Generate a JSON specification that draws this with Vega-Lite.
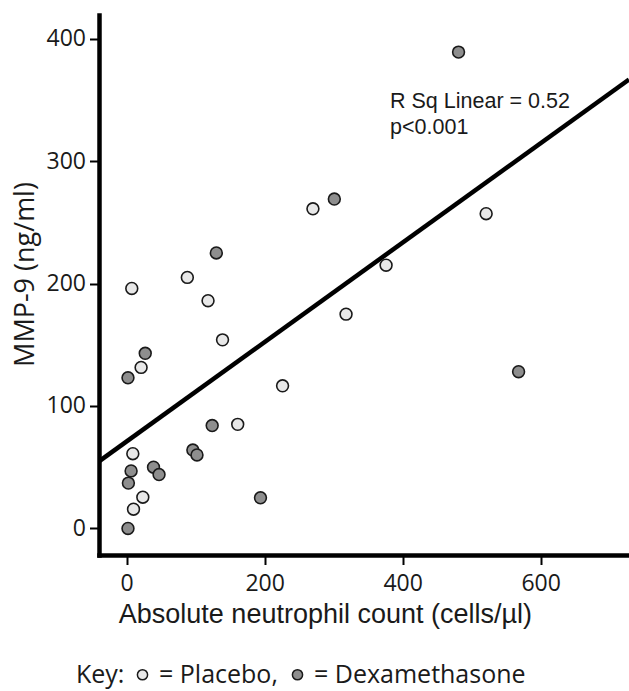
{
  "$schema": "https://vega.github.io/schema/vega-lite/v6.json",
  "width": 530,
  "height": 540,
  "autosize": {"type": "none"},
  "padding": {"left": 99, "top": 15, "right": 0, "bottom": 136},
  "background": "white",
  "config": {"view": {"stroke": null}, "axis": {"grid": false}},
  "datasets": {
    "fit": [
      {"x": -40, "y": 54.8},
      {"x": 728, "y": 366.6}
    ],
    "points": [
      {"x": 96, "y": 64, "group": "Dexamethasone"},
      {"x": 102, "y": 60, "group": "Dexamethasone"},
      {"x": 481, "y": 389, "group": "Dexamethasone"},
      {"x": 130, "y": 225, "group": "Dexamethasone"},
      {"x": 301, "y": 269, "group": "Dexamethasone"},
      {"x": 27, "y": 143, "group": "Dexamethasone"},
      {"x": 2, "y": 123, "group": "Dexamethasone"},
      {"x": 124, "y": 84, "group": "Dexamethasone"},
      {"x": 6.5, "y": 47, "group": "Dexamethasone"},
      {"x": 2.6, "y": 37, "group": "Dexamethasone"},
      {"x": 39, "y": 50, "group": "Dexamethasone"},
      {"x": 47, "y": 44, "group": "Dexamethasone"},
      {"x": 2, "y": 0, "group": "Dexamethasone"},
      {"x": 194, "y": 25, "group": "Dexamethasone"},
      {"x": 568, "y": 128, "group": "Dexamethasone"},
      {"x": 270, "y": 261, "group": "Placebo"},
      {"x": 88, "y": 205, "group": "Placebo"},
      {"x": 7.5, "y": 196, "group": "Placebo"},
      {"x": 118, "y": 186, "group": "Placebo"},
      {"x": 139, "y": 154, "group": "Placebo"},
      {"x": 21, "y": 131.5, "group": "Placebo"},
      {"x": 226, "y": 116.5, "group": "Placebo"},
      {"x": 161, "y": 85, "group": "Placebo"},
      {"x": 9, "y": 61, "group": "Placebo"},
      {"x": 23.5, "y": 25.5, "group": "Placebo"},
      {"x": 10, "y": 15.7, "group": "Placebo"},
      {"x": 521, "y": 257, "group": "Placebo"},
      {"x": 376, "y": 215, "group": "Placebo"},
      {"x": 318, "y": 175, "group": "Placebo"}
    ],
    "notes": [
      {"x": 381.7, "y": 343.6, "label": "R Sq Linear = 0.52"},
      {"x": 381.7, "y": 321.9, "label": "p<0.001"}
    ]
  },
  "layer": [
    {
      "data": {"name": "fit"},
      "mark": {"type": "line", "color": "black", "strokeWidth": 4.5, "clip": true},
      "encoding": {
        "x": {
          "field": "x", "type": "quantitative",
          "scale": {"domain": [-40, 728], "nice": false, "zero": false},
          "axis": {
            "values": [0, 200, 400, 600],
            "title": "Absolute neutrophil count (cells/µl)",
            "domainColor": "black", "domainWidth": 4.5, "domainCap": "square",
            "tickColor": "black", "tickWidth": 2, "tickSize": 9.5,
            "labelFont": "Open Sans", "labelFontSize": 23, "labelColor": "#1a1a1a",
            "labelPadding": 7.5, "labelFlush": false, "labelOverlap": false,
            "titleFont": "Liberation Sans", "titleFontSize": 27, "titleFontWeight": "normal",
            "titleColor": "#1a1a1a", "titleAlign": "left", "titleX": 19.3, "titleY": 67.7,
            "titleBaseline": "alphabetic"
          }
        },
        "y": {
          "field": "y", "type": "quantitative",
          "scale": {"domain": [-21.7, 419.3], "nice": false, "zero": false},
          "axis": {
            "values": [0, 100, 200, 300, 400],
            "title": "MMP-9 (ng/ml)",
            "domainColor": "black", "domainWidth": 4.5, "domainCap": "square",
            "tickColor": "black", "tickWidth": 2, "tickSize": 9.5,
            "labelFont": "Open Sans", "labelFontSize": 23, "labelColor": "#1a1a1a",
            "labelPadding": 4, "labelFlush": false, "labelOverlap": false,
            "titleFont": "Open Sans", "titleFontSize": 27, "titleFontWeight": "normal",
            "titleColor": "#1a1a1a", "titleAngle": -90, "titleAlign": "center",
            "titleX": -66, "titleY": 259, "titleBaseline": "alphabetic"
          }
        }
      }
    },
    {
      "data": {"name": "points"},
      "mark": {"type": "circle", "size": 140, "stroke": "#1a1a1a", "strokeWidth": 1.6, "opacity": 1},
      "encoding": {
        "x": {"field": "x", "type": "quantitative"},
        "y": {"field": "y", "type": "quantitative"},
        "fill": {
          "field": "group", "type": "nominal",
          "scale": {"domain": ["Placebo", "Dexamethasone"], "range": ["#e8e8e8", "#8e8e8e"]},
          "legend": {
            "title": "Key:", "orient": "none", "legendX": -23, "legendY": 647,
            "direction": "horizontal", "titleOrient": "left",
            "titleFont": "Open Sans", "titleFontSize": 25, "titleFontWeight": "normal",
            "titleColor": "#1a1a1a", "titlePadding": 5,
            "labelFont": "Open Sans", "labelFontSize": 25, "labelColor": "#1a1a1a",
            "labelOffset": 4, "columnPadding": 7, "labelLimit": 0,
            "symbolType": "circle", "symbolSize": 104, "symbolOpacity": 1,
            "symbolStrokeColor": "#1a1a1a", "symbolStrokeWidth": 1.5,
            "labelExpr": "datum.label == 'Placebo' ? '= Placebo,' : '= Dexamethasone'"
          }
        }
      }
    },
    {
      "data": {"name": "notes"},
      "mark": {"type": "text", "align": "left", "baseline": "alphabetic", "font": "Liberation Sans", "fontSize": 21.5, "color": "#1a1a1a"},
      "encoding": {
        "x": {"field": "x", "type": "quantitative"},
        "y": {"field": "y", "type": "quantitative"},
        "text": {"field": "label"}
      }
    }
  ]
}
